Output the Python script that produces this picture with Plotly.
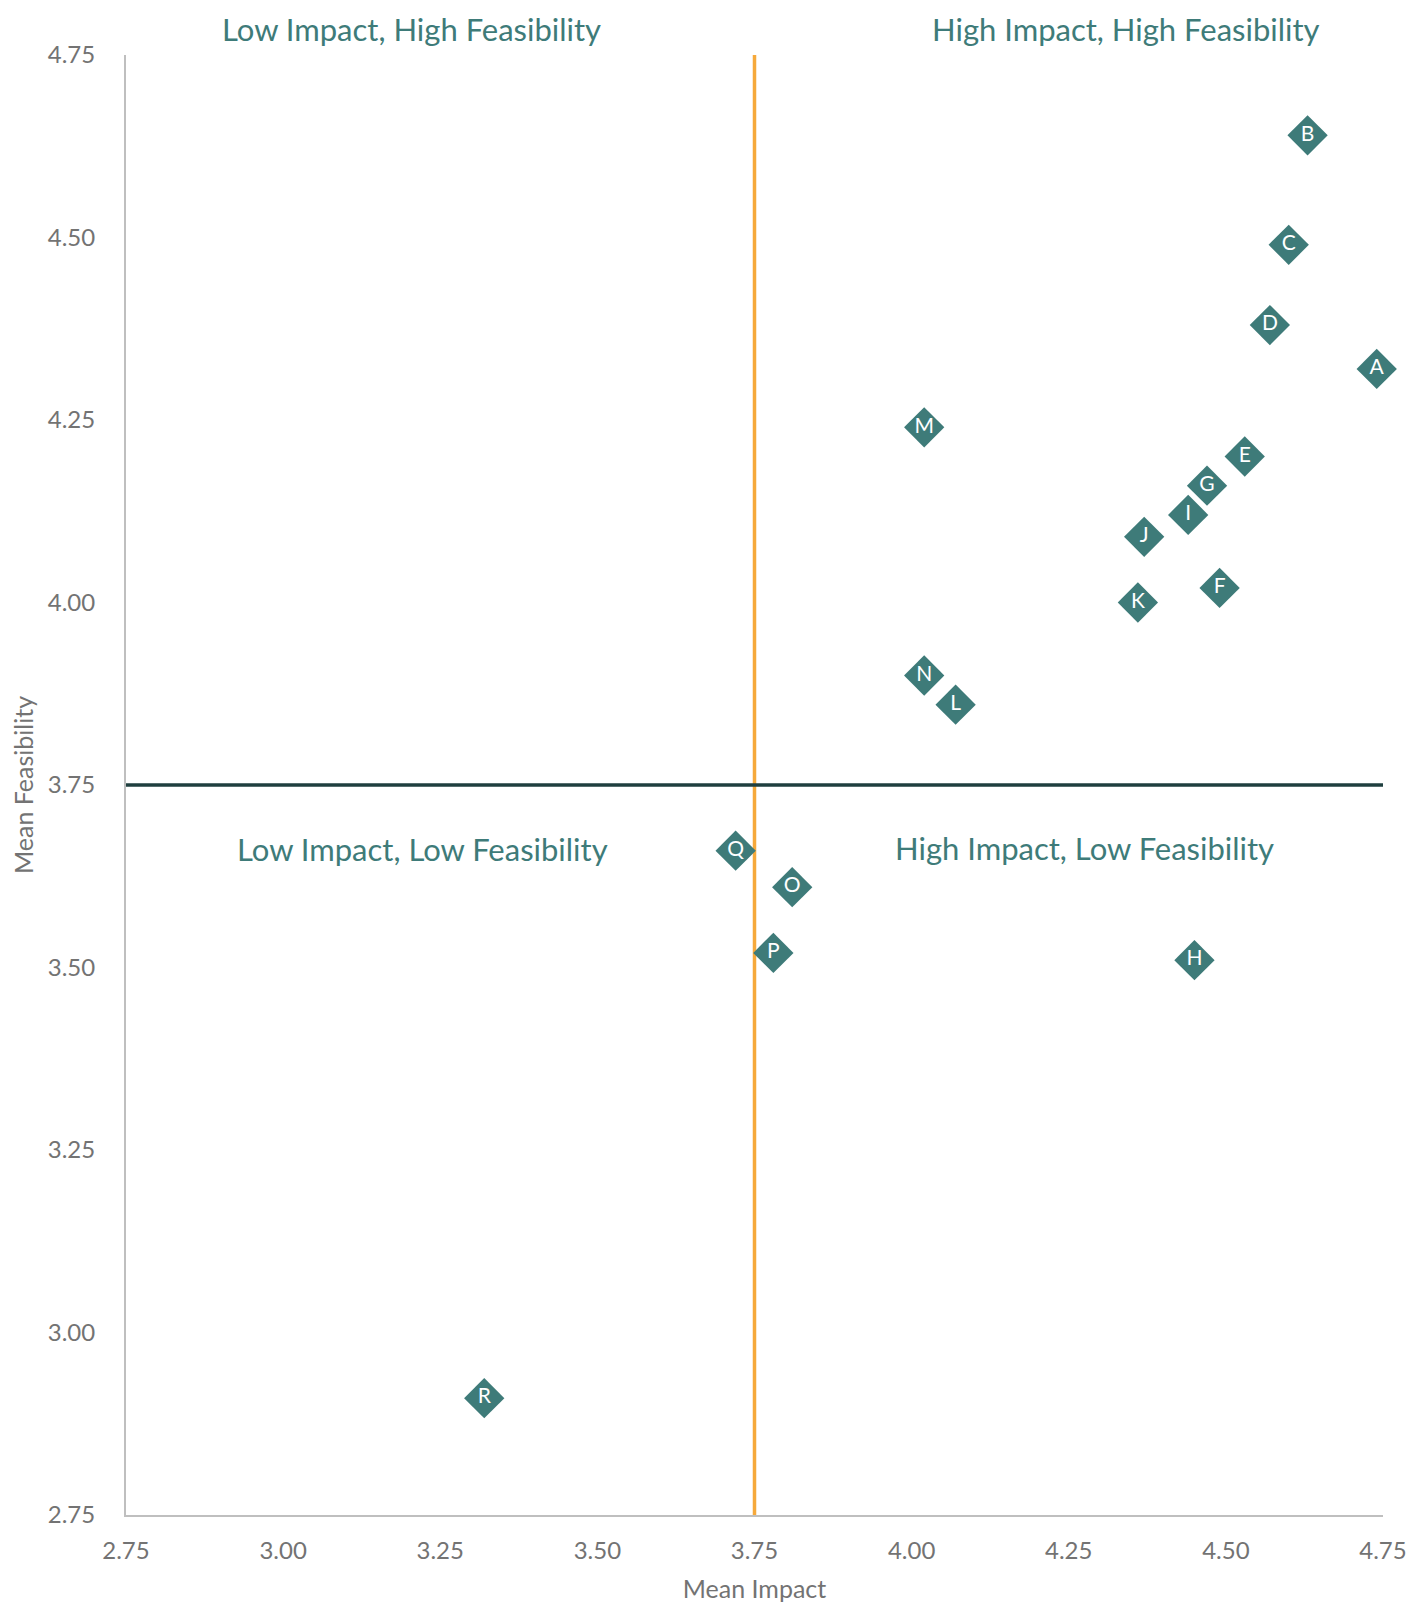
import plotly.graph_objects as go

labels = ["A", "B", "C", "D", "E", "F", "G", "H", "I", "J", "K", "L", "M", "N", "O", "P", "Q", "R"]
mean_impact = [4.74, 4.63, 4.60, 4.57, 4.53, 4.49, 4.47, 4.45, 4.44, 4.37, 4.36, 4.07, 4.02, 4.02, 3.81, 3.78, 3.72, 3.32]
mean_feasibility = [4.32, 4.64, 4.49, 4.38, 4.20, 4.02, 4.16, 3.51, 4.12, 4.09, 4.00, 3.86, 4.24, 3.90, 3.61, 3.52, 3.66, 2.91]

x_ticks = [2.75, 3.00, 3.25, 3.50, 3.75, 4.00, 4.25, 4.50, 4.75]
y_ticks = [2.75, 3.00, 3.25, 3.50, 3.75, 4.00, 4.25, 4.50, 4.75]
threshold_x = 3.75
threshold_y = 3.75

quadrant_text = ["Low Impact, High Feasibility", "High Impact, High Feasibility",
                 "Low Impact, Low Feasibility", "High Impact, Low Feasibility"]
quadrant_x = [3.205, 4.341, 3.221, 4.275]
quadrant_yref = ["paper", "paper", "y", "y"]
quadrant_y = [1.0178, 1.0178, 3.662, 3.664]

TEAL = "#3e7b79"
GRAY = "#737373"
FONT = "Lato, 'Open Sans', sans-serif"

fig = go.Figure()

fig.add_trace(go.Scatter(x=[threshold_x, threshold_x], y=[y_ticks[0], y_ticks[-1]], mode="lines",
                         line=dict(color="#f6a93b", width=3.5), hoverinfo="skip", showlegend=False,
                         cliponaxis=False))
fig.add_trace(go.Scatter(x=[x_ticks[0], x_ticks[-1]], y=[threshold_y, threshold_y], mode="lines",
                         line=dict(color="#1f3f3f", width=3.5), hoverinfo="skip", showlegend=False,
                         cliponaxis=False))

fig.add_trace(go.Scatter(
    x=mean_impact, y=mean_feasibility, mode="markers+text", text=labels,
    textposition="middle center",
    textfont=dict(color="white", size=21, family=FONT),
    marker=dict(symbol="diamond", size=31, color=TEAL),
    showlegend=False, cliponaxis=False))

for t, qx, qy, yr in zip(quadrant_text, quadrant_x, quadrant_y, quadrant_yref):
    fig.add_annotation(x=qx, y=qy, xref="x", yref=yr, text=t, showarrow=False,
                       font=dict(color=TEAL, size=31, family=FONT), borderpad=0,
                       xanchor="center", yanchor="middle")

fig.update_layout(
    width=1425, height=1609,
    margin=dict(l=113, r=50, t=47, b=102),
    plot_bgcolor="white", paper_bgcolor="white",
    font=dict(family=FONT, color=GRAY),
    xaxis=dict(range=[2.75, 4.75], tickvals=x_ticks, ticktext=[f"{v:.2f}" for v in x_ticks],
               showgrid=False, zeroline=False, showline=True, linecolor="#bfbfbf", linewidth=2,
               ticks="", tickfont=dict(size=24, color=GRAY), ticklabelstandoff=13,
               title=dict(text="Mean Impact", font=dict(size=25, color=GRAY), standoff=18)),
    yaxis=dict(range=[2.75, 4.75], tickvals=y_ticks, ticktext=[f"{v:.2f}" for v in y_ticks],
               showgrid=False, zeroline=False, showline=True, linecolor="#bfbfbf", linewidth=2,
               ticks="", tickfont=dict(size=24, color=GRAY), ticklabelstandoff=24,
               title=dict(text="Mean Feasibility", font=dict(size=25, color=GRAY), standoff=10)),
)

fig.write_html("out.html")
